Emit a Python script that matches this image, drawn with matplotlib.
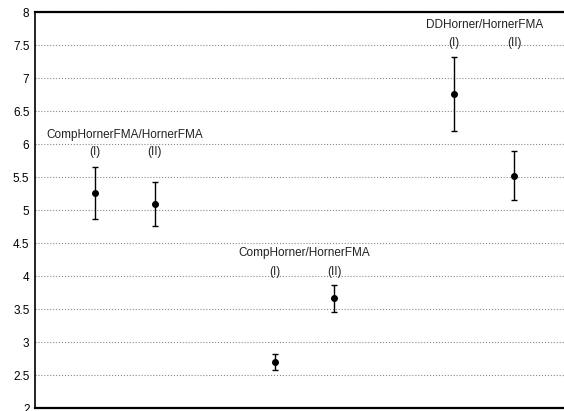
import matplotlib.pyplot as plt

plt.rcParams['font.family'] = ['Liberation Sans', 'DejaVu Sans']

# Data
groups = ['CompHornerFMA/HornerFMA', 'CompHorner/HornerFMA', 'DDHorner/HornerFMA']
variants = ['(I)', '(II)']
means = [5.26, 5.09, 2.70, 3.66, 6.76, 5.52]
upper = [5.65, 5.42, 2.82, 3.87, 7.32, 5.89]
lower = [4.86, 4.76, 2.58, 3.45, 6.20, 5.15]
label_y = [5.88, 4.06, 7.53]
header_y = [6.14, 4.35, 7.80]

xs = [1, 2, 4, 5, 7, 8]

fig = plt.figure(figsize=(5.64, 4.11), dpi=100)
ax = fig.add_axes([35 / 564, 3 / 411, 539 / 564, 396 / 411])

yerr = [[m - lo for m, lo in zip(means, lower)], [up - m for m, up in zip(means, upper)]]
ax.errorbar(xs, means, yerr=yerr, fmt='o', color='black', markersize=4,
            elinewidth=1, capsize=2.4, capthick=1, zorder=5)

fs = 8.5
for g, name in enumerate(groups):
    xi, xii = xs[2 * g], xs[2 * g + 1]
    ax.text((xi + xii) / 2, header_y[g], name, ha='center', va='center', fontsize=fs, color='#222222')
    ax.text(xi, label_y[g], variants[0], ha='center', va='center', fontsize=fs, color='#222222')
    ax.text(xii, label_y[g], variants[1], ha='center', va='center', fontsize=fs, color='#222222')

ax.set_xlim(0, 9)
ax.set_ylim(2, 8)
ax.set_yticks([2 + 0.5 * i for i in range(13)])
ax.set_yticklabels(['2', '2.5', '3', '3.5', '4', '4.5', '5', '5.5', '6', '6.5', '7', '7.5', '8'])
ax.set_xticks([])
ax.tick_params(axis='y', length=0, labelsize=fs, pad=4)
ax.yaxis.grid(True, linestyle=':', color='#888888', linewidth=0.8)
ax.set_axisbelow(True)

ax.spines['right'].set_visible(False)
ax.spines['top'].set_linewidth(1.6)
ax.spines['bottom'].set_linewidth(1.6)
ax.spines['left'].set_linewidth(1.2)

fig.savefig('out.png', dpi=100)
